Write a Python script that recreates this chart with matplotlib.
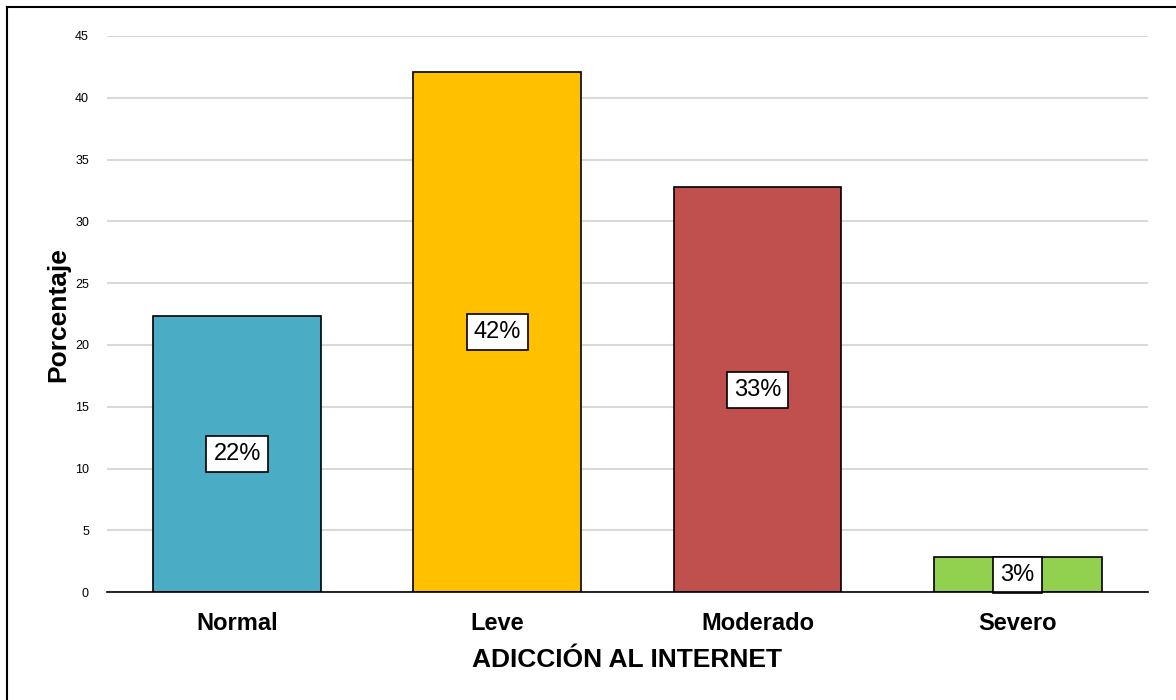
import numpy as np
import matplotlib.pyplot as plt
from matplotlib.lines import Line2D

categories = ["Normal", "Leve", "Moderado", "Severo"]
values = [22.33, 42.05, 32.77, 2.83]
labels = ["22%", "42%", "33%", "3%"]
colors = ["#4BACC6", "#FFC000", "#C0504D", "#92D050"]


def main():
    plt.rcParams['font.family'] = ['Liberation Sans', 'DejaVu Sans']
    fig = plt.figure(figsize=(11.76, 7.0), dpi=100)
    ax = fig.add_axes([0.091, 0.154, 0.885, 0.7946])

    x = np.arange(len(categories))
    ax.bar(x, values, width=0.645, color=colors, edgecolor="black", linewidth=1.2, zorder=3)

    for xi, v, lab in zip(x, values, labels):
        ax.text(xi, v / 2, lab, ha="center", va="center", fontsize=17, zorder=4,
                bbox=dict(boxstyle="square,pad=0.3", facecolor="white", edgecolor="black", linewidth=1.2))

    ax.set_xlim(-0.5, 3.5)
    ax.set_ylim(0, 45)
    ax.set_yticks(np.arange(0, 46, 5))
    ax.yaxis.grid(True, color="#D9D9D9", linewidth=1.5, zorder=0)
    ax.set_axisbelow(True)
    ax.tick_params(axis="y", length=0, labelsize=9, pad=13)
    ax.tick_params(axis="x", length=0, labelsize=17, pad=14)
    ax.set_xticks(x)
    ax.set_xticklabels(categories, fontweight="bold")
    for s in ["top", "right", "left"]:
        ax.spines[s].set_visible(False)
    ax.spines["bottom"].set_linewidth(1.2)
    ax.spines["bottom"].set_zorder(5)

    ax.set_ylabel("Porcentaje", fontsize=19, fontweight="bold", va="center")
    ax.yaxis.set_label_coords(-0.047, 0.5)
    ax.set_xlabel("ADICCIÓN AL INTERNET", fontsize=19, fontweight="bold", va="center")
    ax.xaxis.set_label_coords(0.5, -0.122)

    # frame lines (left and top)
    fig.add_artist(Line2D([7 / 1176, 7 / 1176], [0, 1 - 7 / 700], color="black", linewidth=1.5,
                          transform=fig.transFigure))
    fig.add_artist(Line2D([7 / 1176, 1], [1 - 7 / 700, 1 - 7 / 700], color="black", linewidth=1.5,
                          transform=fig.transFigure))

    plt.savefig("out.png", dpi=100)


if __name__ == "__main__":
    main()
